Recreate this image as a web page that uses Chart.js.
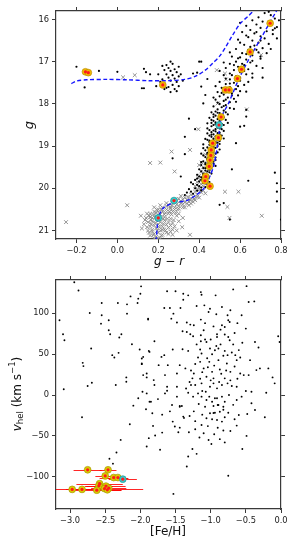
<!DOCTYPE html>
<html><head><meta charset="utf-8">
<script src="https://cdn.jsdelivr.net/npm/chart.js@4/dist/chart.umd.min.js"></script>
<style>
html,body{margin:0;padding:0;background:#fff;width:294px;height:546px;overflow:hidden}
canvas{position:absolute;left:0}
#c1{top:0}
#c2{top:270px}
</style></head><body>
<canvas id="c1" width="294" height="270"></canvas>
<canvas id="c2" width="294" height="276"></canvas>
<script>
// ---------- top panel: colour–magnitude diagram (g-r, g) ----------
const CMD_X_TICKS = [-0.2, 0.0, 0.2, 0.4, 0.6, 0.8];
const CMD_Y_TICKS = [16, 17, 18, 19, 20, 21];

// black dots (members / probable members)
const CMD_BLACK = [
 [0.22,17.10],[0.24,17.08],[0.25,17.15],[0.27,17.05],[0.23,17.2],[0.26,17.22],[0.28,17.18],[0.29,17.25],[0.24,17.3],[0.27,17.32],
 [0.25,17.38],[0.28,17.4],[0.3,17.35],[0.22,17.42],[0.26,17.45],[0.29,17.48],[0.23,17.52],[0.27,17.55],[0.25,17.6],[0.3,17.58],
 [0.28,17.65],[0.24,17.62],[0.31,17.3],[0.2,17.3],[0.21,17.48],[0.26,17.0],[0.3,17.12],[0.19,17.58],[0.32,17.45],[0.23,17.65],
 [0.29,17.7],[0.26,17.72],
 [-0.2,17.12],[-0.09,17.22],[0.0,17.24],[-0.16,17.61],[0.13,17.63],[0.13,17.17],[0.14,17.25],[0.37,17.28],[0.39,17.26],[0.40,17.0],
 [0.41,17.59],[0.44,17.41],[0.12,17.63],[0.16,17.3],
 [0.72,15.85],[0.75,15.9],[0.69,15.95],[0.77,15.98],[0.66,16.02],[0.71,16.05],[0.74,16.1],[0.68,16.12],[0.63,16.15],[0.78,16.18],
 [0.7,16.2],[0.65,16.25],[0.73,16.28],[0.61,16.3],[0.67,16.33],[0.76,16.35],[0.7,16.4],[0.64,16.42],[0.72,16.45],[0.59,16.48],
 [0.66,16.5],[0.69,16.55],[0.74,16.58],[0.62,16.6],[0.67,16.62],[0.71,16.68],[0.58,16.7],[0.64,16.72],[0.69,16.78],[0.61,16.8],
 [0.73,16.8],[0.66,16.85],[0.56,16.88],[0.6,16.9],[0.63,16.95],[0.7,16.93],[0.58,17.0],[0.65,17.02],[0.55,17.05],[0.62,17.08],
 [0.68,17.1],[0.59,17.12],[0.53,17.15],[0.64,17.18],[0.57,17.2],[0.6,17.25],[0.55,17.28],[0.63,17.3],[0.52,17.32],[0.58,17.35],
 [0.66,17.38],[0.55,17.42],[0.6,17.45],[0.5,17.48],[0.57,17.5],[0.53,17.53],[0.62,17.55],[0.55,17.6],[0.51,17.62],[0.58,17.65],
 [0.54,17.7],[0.49,17.72],[0.56,17.75],[0.52,17.78],[0.59,17.8],[0.5,17.82],[0.54,17.85],[0.57,17.88],[0.48,17.9],[0.52,17.93],
 [0.55,17.96],[0.5,18.0],[0.53,18.03],[0.47,18.06],[0.51,18.08],[0.55,18.1],[0.49,18.13],[0.52,18.16],[0.46,18.2],[0.5,18.22],
 [0.54,18.25],[0.48,18.28],[0.51,18.3],[0.45,18.33],[0.49,18.36],[0.53,18.38],[0.47,18.4],[0.5,18.43],[0.44,18.46],[0.48,18.48],
 [0.52,18.5],[0.46,18.53],[0.49,18.56],[0.51,18.6],[0.45,18.62],[0.48,18.65],[0.5,18.68],[0.44,18.7],[0.47,18.72],[0.51,18.75],
 [0.46,18.78],[0.49,18.8],[0.43,18.83],[0.47,18.86],[0.5,18.88],[0.45,18.9],[0.48,18.93],[0.42,18.96],[0.46,18.98],[0.49,19.0],
 [0.44,19.03],[0.47,19.06],[0.43,19.1],[0.46,19.12],[0.49,19.15],[0.41,19.18],[0.45,19.2],[0.47,19.23],[0.43,19.26],[0.46,19.3],
 [0.48,19.33],[0.42,19.36],[0.45,19.4],[0.47,19.42],[0.41,19.45],[0.44,19.48],[0.46,19.52],[0.4,19.55],[0.43,19.58],[0.45,19.62],
 [0.42,19.65],[0.39,19.68],[0.44,19.7],[0.41,19.74],[0.43,19.78],[0.38,19.8],[0.4,19.84],[0.42,19.88],[0.37,19.9],[0.4,19.95],
 [0.43,19.97],[0.38,20.0],[0.41,20.05],[0.36,20.08],
 [0.74,15.82],[0.79,16.02],[0.6,16.08],[0.76,16.25],[0.68,16.3],[0.63,16.38],[0.78,16.45],[0.7,16.5],[0.6,16.55],[0.65,16.65],
 [0.75,16.7],[0.68,16.72],[0.55,16.78],[0.63,16.82],[0.7,16.88],[0.59,16.92],[0.66,16.98],[0.52,17.02],[0.61,17.05],[0.57,17.08],
 [0.71,17.15],[0.62,17.22],[0.5,17.22],[0.66,17.28],[0.56,17.32],[0.6,17.38],[0.53,17.4],[0.64,17.48],[0.55,17.52],[0.59,17.58],
 [0.48,17.58],[0.53,17.66],[0.6,17.7],[0.51,17.74],[0.56,17.8],[0.47,17.85],[0.53,17.9],[0.58,17.95],[0.49,17.97],[0.52,18.05],
 [0.57,18.12],[0.48,18.18],[0.53,18.2],[0.47,18.25],[0.52,18.32],[0.46,18.38],[0.5,18.4],[0.54,18.45],[0.47,18.5],[0.5,18.53],
 [0.44,18.58],[0.48,18.6],[0.52,18.64],[0.46,18.67],[0.5,18.72],[0.45,18.75],[0.48,18.77],[0.52,18.82],[0.44,18.85],[0.48,18.9],
 [0.5,18.95],[0.45,18.97],[0.47,19.02],[0.42,19.05],[0.5,19.08],[0.45,19.1],[0.48,19.18],[0.44,19.16],[0.42,19.22],[0.48,19.27],
 [0.44,19.32],[0.41,19.38],[0.47,19.37],[0.43,19.43],[0.48,19.47],[0.42,19.52],[0.45,19.56],[0.41,19.6],[0.46,19.65],[0.4,19.72],
 [0.44,19.76],[0.39,19.77],[0.42,19.82],[0.45,19.85],[0.39,19.92],[0.41,19.98],[0.35,20.02],[0.39,20.06],[0.34,20.1],[0.37,20.13],
 [0.33,20.16],
 [0.49,18.21],[0.51,18.27],[0.47,18.31],[0.5,18.35],[0.48,18.44],[0.51,18.47],[0.46,18.45],[0.5,18.58],[0.47,18.63],[0.49,18.69],
 [0.46,18.73],[0.5,18.78],[0.47,18.82],[0.45,18.87],[0.49,18.92],[0.46,18.95],[0.48,19.04],[0.45,19.07],[0.47,19.14],[0.44,19.19],
 [0.46,19.25],[0.44,19.29],[0.46,19.35],[0.43,19.4],[0.45,19.46],[0.43,19.52],[0.44,19.6],[0.42,19.68],[0.43,19.72],[0.41,19.8],
 [0.33,18.78],[0.58,18.93],[0.64,19.82],[0.77,19.63],[0.78,19.88],[0.78,20.08],[0.78,20.31],[0.27,19.29],[0.33,19.19],[0.31,19.72],
 [0.5,20.39],[0.36,19.86],[0.6,18.54],[0.62,18.52],[0.8,20.74],[0.55,20.74],[0.41,17.0],[0.43,17.79],[0.42,17.99],[0.63,18.14],
 [0.63,18.3],[0.71,17.38],[0.77,16.21],[0.63,17.71],[0.35,18.35],[0.38,18.6],[0.56,19.55],[0.52,20.35]
];

// grey crosses (non-members)
const CMD_GREY = [
 [0.16,20.6],[0.18,20.55],[0.2,20.5],[0.22,20.55],[0.24,20.5],[0.17,20.7],[0.19,20.65],[0.21,20.62],[0.23,20.68],[0.25,20.6],
 [0.15,20.8],[0.17,20.78],[0.19,20.75],[0.21,20.8],[0.23,20.76],[0.26,20.72],[0.16,20.9],[0.18,20.88],[0.2,20.85],[0.22,20.9],
 [0.24,20.86],[0.27,20.82],[0.15,21.0],[0.17,20.98],[0.19,20.95],[0.21,21.0],[0.23,20.97],[0.25,20.93],[0.18,21.08],[0.2,21.05],
 [0.22,21.1],[0.24,21.05],[0.16,21.12],[0.19,21.15],[0.21,21.18],[0.26,21.02],[0.28,20.9],[0.14,20.7],[0.29,20.65],[0.27,20.55],
 [0.18,20.45],[0.13,20.85],[0.3,20.78],[0.2,20.72],[0.22,20.98],[0.17,21.02],[0.25,20.8],[0.16,20.68],[0.23,20.62],[0.19,20.58],
 [0.25,20.4],[0.27,20.35],[0.29,20.38],[0.31,20.3],[0.33,20.33],[0.26,20.48],[0.28,20.45],[0.3,20.42],[0.32,20.38],[0.34,20.27],
 [0.36,20.24],[0.35,20.32],[0.37,20.2],[0.38,20.28],[0.39,20.15],[0.4,20.22],[0.41,20.1],[0.36,20.15],[0.33,20.22],[0.38,20.08],
 [0.42,20.05],[0.4,20.0],[0.43,20.12],[0.37,20.32],[0.3,20.25],[0.24,20.35],[0.22,20.45],[0.35,20.4],[0.28,20.28],[0.31,20.18],
 [0.41,19.9],[0.43,19.85],[0.39,19.85],[0.42,19.75],[0.4,19.7],[0.44,19.8],[0.38,19.95],[0.41,19.6],[0.43,19.65],[0.45,19.55],
 [0.42,19.5],[0.44,19.4],[0.4,19.45],[0.46,19.3],[0.43,19.2],[0.45,19.1],
 [0.155,20.65],[0.175,20.62],[0.195,20.52],[0.215,20.5],[0.235,20.58],[0.255,20.55],[0.265,20.62],[0.285,20.58],[0.295,20.5],[0.145,20.92],
 [0.165,20.85],[0.185,20.82],[0.205,20.92],[0.225,20.84],[0.245,20.72],[0.26,20.88],[0.275,20.75],[0.155,21.05],[0.175,21.1],[0.195,21.0],
 [0.215,21.12],[0.235,21.0],[0.25,21.08],[0.27,20.98],[0.185,20.68],[0.205,20.6],[0.225,20.72],[0.145,20.6],[0.135,20.75],[0.165,20.75],
 [0.2,21.18],[0.18,21.18],[0.26,20.45],[0.28,20.5],[0.3,20.48],[0.32,20.45],[0.34,20.36],[0.355,20.28],[0.375,20.25],[0.31,20.35],
 [0.29,20.3],[0.265,20.4],[0.32,20.26],[0.345,20.2],[0.39,20.2],[0.405,20.05],[0.39,20.02],[0.42,19.95],[0.405,19.8],[0.425,19.7],
 [0.395,19.75],[0.33,20.45],[0.24,20.42],[0.21,20.4],[0.36,20.36],[0.3,20.6],[0.32,20.7],[0.12,20.95],[0.27,21.1],[0.29,21.0],
 [0.16,19.4],[0.21,19.39],[0.265,19.13],[0.28,19.6],[0.355,19.09],[0.396,18.6],[0.526,20.08],[0.592,20.08],[0.538,20.44],[0.548,20.7],
 [0.706,20.65],[0.115,20.65],[0.355,21.1],[0.317,20.92],[0.412,19.39],[0.048,20.4],[-0.251,20.8],[0.486,17.2],[0.531,17.42],[0.49,17.99],
 [0.633,18.13],[0.703,16.84],[0.526,17.28],[0.028,17.37],[0.085,17.32]
];

// spectroscopic targets (red centre, yellow / cyan halo)
const CMD_TARGETS = [
 [-0.156,17.24],[-0.142,17.26],[0.222,17.55],[0.747,16.09],[0.649,16.77],[0.607,17.18],[0.587,17.40],[0.528,17.67],[0.546,17.67],
 [0.507,18.31],[0.497,18.50],[0.494,18.80],[0.466,18.93],[0.459,19.09],[0.457,19.22],[0.453,19.33],[0.449,19.48],[0.432,19.72],
 [0.428,19.82],[0.453,19.95],[0.277,20.29],[0.200,20.70]
];
const CMD_TARGET_CYAN = [10, 20, 21];

// two dashed fiducial sequences
const ISO_A = [[-0.225,17.52],[-0.2,17.46],[-0.15,17.43],[-0.05,17.42],[0.05,17.43],[0.15,17.45],[0.25,17.45],[0.33,17.42],
 [0.38,17.35],[0.43,17.2],[0.47,17.02],[0.5,16.87],[0.53,16.65],[0.56,16.4],[0.6,16.1],[0.64,15.92],[0.665,15.8]];
const ISO_B = [[0.19,21.25],[0.195,20.9],[0.2,20.7],[0.224,20.47],[0.276,20.34],[0.339,20.29],[0.388,20.15],[0.42,20.02],
 [0.445,19.8],[0.47,19.48],[0.486,19.09],[0.499,18.62],[0.51,18.3],[0.543,17.99],[0.592,17.43],[0.641,16.96],[0.706,16.41],[0.78,15.78]];

// ---------- bottom panel: v_hel vs [Fe/H] ----------
const VF_X_TICKS = [-3.0, -2.5, -2.0, -1.5, -1.0, -0.5, 0.0];
const VF_Y_TICKS = [-100, -50, 0, 50, 100];

const VF_FIELD = [
 [-2.94,138],[-2.88,128],[-3.15,91.5],[-3.10,74.4],[-3.08,67],[-3.09,7],[-2.72,100.4],[-2.70,57],[-2.82,39.4],[-2.81,35.4],
 [-2.75,11],[-2.69,15],[-2.55,112.6],[-2.55,97.6],[-2.56,87.4],[-2.45,91.5],[-2.45,79.3],[-2.43,74.4],[-2.40,48.8],[-2.37,46],
 [-2.31,51.6],[-2.32,112.6],[-2.19,111],[-2.19,99.6],[-2.30,70.4],[-2.27,74.4],[-2.35,12.2],[-2.20,21.6],[-2.20,16.2],[-2.14,120.7],
 [-2.04,112.6],[-2.03,118],[-2.00,124],[-1.99,133],[-2.12,62.2],[-2.01,55.7],[-1.98,44.8],[-1.98,37.8],[-1.96,24.4],[-1.91,21.6],
 [-1.97,4],[-2.03,-4],[-1.91,2],[-2.10,-13],[-1.92,-17.4],[-1.89,93.5],[-1.88,54],
 [-2.83,-27.2],[-2.15,-35.7],[-2.28,-54.9],[-2.34,-70.4],[-2.44,-78],[-2.39,-84],[-1.88,-52.8],[-1.91,-63],
 [-1.53,-121],[-0.75,-98.8],[-1.34,-87.4],[-1.32,-75.2],[-1.20,-72],[-1.26,-66],[-1.72,-67],[-1.79,-49.6],[-1.69,-46],[-0.55,-66],
 [-0.49,-50],[-1.03,-55],[-0.87,-54],[-0.95,-48],[-1.10,-46.8],[-1.31,-45.5],[-1.46,-45.5],[-1.44,-39.9],[-1.51,-38.6],[-1.22,-41.8],
 [-0.82,-43.5],[-0.63,-37.4],[-0.23,-27.2],[-0.37,-18.3],[-0.48,-23.2],[-0.60,-24.4],[-0.66,-29.6],[-1.83,-22.3],[-1.82,-37.8],[-1.69,-24],
 [-1.54,-32.5],[-1.39,-26.4],[-1.30,-25.6],[-1.13,-36.6],[-1.06,-28.4],[-0.98,-29.6],[-0.91,-30.5],[-0.84,-32.5],[-0.80,-27.2],[-1.01,-22.3],
 [-0.94,-21.6],[-0.87,-20.4],[-1.08,-14.3],[-0.96,-13.4],[-0.89,-12.2],[-0.82,-14.3],[-1.17,-11],[-1.44,-13.4],[-1.55,-12.2],[-1.87,-8.2],
 [-0.75,-21.6],
 [-1.62,127],[-1.50,127],[-1.39,124],[-1.32,122],[-1.39,116.7],[-1.14,126],[-1.13,122.8],[-0.93,122],[-0.68,129.3],[-0.49,133.3],
 [-0.46,113.8],[-0.38,114.6],[-0.84,107.7],[-1.01,105.7],[-1.09,109.8],[-1.20,108.9],[-1.66,106.5],[-1.58,106.5],[-1.43,106.5],[-1.53,99.6],
 [-1.56,93.5],[-1.89,92.3],[-1.48,88.7],[-1.34,88.7],[-1.29,86.2],[-1.24,85.4],[-1.14,92.3],[-1.03,101.6],[-0.92,98.8],[-0.76,97.6],
 [-0.72,103.7],[-0.73,89.4],[-0.75,91.5],[-0.56,97.6],[-0.50,81.3],[-1.40,78],[-1.34,77.2],[-1.29,74.4],[-1.14,73.2],[-1.10,79.3],
 [-1.08,67.9],[-1.14,65.9],[-1.06,65],[-0.91,71.1],[-0.91,74.4],[-0.80,74],[-0.75,71.1],[-0.73,67.1],[-0.37,65],[-0.32,58.2],
 [-0.04,72],[-0.02,65],[-1.80,65.9],[-1.87,52.8],[-1.54,55.7],[-1.32,54],[-1.15,55.7],[-1.13,50.8],[-1.01,57],[-0.94,54.9],
 [-0.89,57],[-0.80,54],[-0.76,48.8],[-0.65,48.8],[-0.58,46],[-0.44,42.7],[-0.30,32.6],[-0.18,32.6],[-0.35,30.5],[-0.12,21.6],
 [-0.09,14.3],[-0.21,2.8],[-0.42,4],[-1.96,46.7],[-1.98,38.6],[-1.91,26.4],[-1.81,18.3],[-1.80,12.2],[-1.70,46.7],[-1.66,48.8],
 [-1.74,36.6],[-1.61,36.6],[-1.44,36.6],[-1.36,32.6],[-1.24,26.4],[-1.65,24.4],[-1.48,26.4],[-1.62,10.1],[-1.62,5.2],[-1.48,10.1],
 [-1.41,-13.4],[-1.28,12.2],[-1.22,12.2],[-1.13,14.3],[-1.12,4.9],[-1.07,4],[-1.01,10.1],[-0.96,14.3],[-0.91,8.2],[-0.84,12.2],
 [-0.76,14.3],[-0.70,11],[-0.63,10.1],[-0.58,26.4],[-0.72,28.4],[-0.87,31.3],[-0.98,28.4],[-1.10,32.6],[-1.15,40.6],[-1.02,40.6],
 [-0.89,42.7],[-0.77,38.6],[-0.63,42.7],[-1.26,20.4],[-1.06,22.3],[-0.96,20.4],[-0.80,20.4],[-0.91,-4],[-1.13,-2],[-1.06,-6],
 [-0.98,-8.2],[-0.84,-2],[-0.80,-8.2],[-0.63,-6],[-0.90,-12.2],[-1.25,-2],[-1.32,2.8],[-1.44,-14.3],[-1.85,-8.2],[-0.42,-10.1],
 [-0.53,24.4],[-0.46,24.4],[-0.84,85.4],[-0.80,83.3],
 [-1.05,45],[-0.98,50],[-0.92,60],[-0.86,62],[-0.82,48],[-0.7,52],[-0.68,62],[-1.18,46],[-1.22,38],[-1.28,30],
 [-1.12,28],[-1.04,34],[-0.95,36],[-0.85,26],[-0.78,30],[-0.66,35],[-0.62,20],[-0.72,18],[-0.88,16],[-1.0,18],
 [-1.15,20],[-1.3,16],[-1.35,8],[-1.18,2],[-1.02,-2],[-0.94,-4],[-0.74,0],[-0.68,-12],[-0.82,-18],[-0.96,-22],
 [-1.12,-24],[-1.24,-20],[-1.38,-28],[-1.22,-32],[-1.04,-38],[-0.9,-40],[-0.72,-44],[-1.16,-52],[-0.99,-60],[-0.8,-58],
 [-1.4,56],[-1.2,62],[-1.0,68],[-0.86,80],[-0.66,76],[-0.55,64],[-0.6,55],[-1.25,72],[-1.08,88],[-0.96,84],
 [-0.62,88],[-0.5,5],[-0.56,-2],[-1.48,-2],[-1.58,-20],[-1.65,2],[-1.75,-5]
];

// spectroscopic targets with [Fe/H] uncertainties
const VF_TARGET_FEH = [-2.75,-2.46,-2.50,-2.38,-2.32,-2.25,-2.58,-2.59,-2.49,-2.97,-2.83,-2.62,-2.51,-2.45,-2.47];
const VF_TARGET_V   = [-91.5,-91.5,-99,-101,-101,-103,-108.5,-111,-111.5,-115.5,-115.5,-116.5,-114.5,-114,-116];
const VF_TARGET_ERR = [0.2,0.12,0.14,0.2,0.15,0.2,0.33,0.2,0.28,0.25,0.15,0.35,0.55,0.25,0.2];
const VF_TARGET_CYAN = [5];

// ---------- drawing ----------
const FONT = 'DejaVu Sans';
const AX = '#3a3a3a';
const fmtNum = d => v => (v < 0 ? '\u2212' : '') + Math.abs(v).toFixed(d);

function axis(dir, pos, min, max, tv, size, fmt, show, rev) {
  return {
    type: 'linear', axis: dir, position: pos, min, max, reverse: !!rev,
    afterBuildTicks: s => { s.ticks = tv.map(v => ({ value: v })); },
    afterFit: s => { if (dir === 'x') s.height = size; else s.width = size; },
    grid: { display: true, drawOnChartArea: false, drawTicks: true, tickLength: 4, color: AX, tickWidth: 1 },
    border: { display: true, color: AX, width: 1.2 },
    ticks: { display: true, autoSkip: false, maxRotation: 0, padding: 3, color: '#222',
      font: { family: FONT, size: 8.3 }, callback: v => show ? fmt(v) : '' }
  };
}
const pts = a => a.map(p => ({ x: p[0], y: p[1] }));

function textPlugin(items) {
  return { id: 'txt', afterDraw(chart) {
    const ctx = chart.ctx;
    ctx.save(); ctx.fillStyle = '#111';
    for (const it of items) {
      ctx.save(); ctx.translate(it.x, it.y); if (it.rot) ctx.rotate(-Math.PI / 2);
      ctx.textBaseline = 'middle';
      let total = 0;
      for (const s of it.segs) { ctx.font = s.f; total += ctx.measureText(s.t).width; }
      let x = -total / 2;
      ctx.textAlign = 'left';
      for (const s of it.segs) { ctx.font = s.f; ctx.fillText(s.t, x, s.dy || 0); x += ctx.measureText(s.t).width; }
      ctx.restore();
    }
    ctx.restore();
  }};
}

const haloColors = (n, cyanIdx, c) => Array.from({ length: n }, (_, i) => cyanIdx.includes(i) ? '#3cc8c8' : c);
const haloBorders = (n, cyanIdx, c) => Array.from({ length: n }, (_, i) => cyanIdx.includes(i) ? '#1a9a9a' : c);

// top chart
new Chart(document.getElementById('c1'), {
  type: 'scatter',
  data: { datasets: [
    { data: pts(CMD_TARGETS), pointRadius: 1.6, pointBackgroundColor: '#ff1a1a', pointBorderWidth: 0, order: 0 },
    { data: pts(CMD_TARGETS), pointRadius: 3.4, pointBackgroundColor: haloColors(CMD_TARGETS.length, CMD_TARGET_CYAN, '#f0b800'),
      pointBorderColor: haloBorders(CMD_TARGETS.length, CMD_TARGET_CYAN, '#c09000'), pointBorderWidth: 0.7, order: 1 },
    { type: 'line', data: pts(ISO_A), showLine: true, pointRadius: 0, borderColor: '#1515ff', borderWidth: 1.4,
      borderDash: [4, 2.5], tension: 0.3, fill: false, order: 2 },
    { type: 'line', data: pts(ISO_B), showLine: true, pointRadius: 0, borderColor: '#1515ff', borderWidth: 1.4,
      borderDash: [4, 2.5], tension: 0.3, fill: false, order: 2 },
    { data: pts(CMD_BLACK), pointRadius: 1.1, pointBackgroundColor: '#000', pointBorderWidth: 0, order: 3 },
    { data: pts(CMD_GREY), pointStyle: 'crossRot', pointRadius: 2.7, pointBorderColor: '#8a8a8a', pointBorderWidth: 0.9, order: 4 }
  ]},
  options: {
    responsive: false, animation: false, devicePixelRatio: 1,
    layout: { padding: 0 },
    plugins: { legend: { display: false }, tooltip: { enabled: false } },
    scales: {
      x: axis('x', 'bottom', -0.3, 0.8, CMD_X_TICKS, 31, fmtNum(1), true),
      x2: axis('x', 'top', -0.3, 0.8, CMD_X_TICKS, 11, fmtNum(1), false),
      y: axis('y', 'left', 15.8, 21.2, CMD_Y_TICKS, 56, fmtNum(0), true, true),
      y2: axis('y', 'right', 15.8, 21.2, CMD_Y_TICKS, 13, fmtNum(0), false, true)
    }
  },
  plugins: [textPlugin([
    { x: 30, y: 125, rot: true, segs: [{ t: 'g', f: `italic 13px "${FONT}"` }] },
    { x: 169, y: 262, segs: [{ t: 'g', f: `italic 12px "${FONT}"` }, { t: ' \u2212 ', f: `12px "${FONT}"` }, { t: 'r', f: `italic 12px "${FONT}"` }] }
  ])]
});

// bottom chart
const errPlugin = { id: 'err', beforeDatasetsDraw(chart) {
  const ctx = chart.ctx, xs = chart.scales.x, ys = chart.scales.y, a = chart.chartArea;
  ctx.save(); ctx.beginPath(); ctx.rect(a.left, a.top, a.right - a.left, a.bottom - a.top); ctx.clip();
  ctx.strokeStyle = 'rgba(255,0,0,0.85)'; ctx.lineWidth = 1;
  VF_TARGET_FEH.forEach((f, i) => {
    const y = Math.round(ys.getPixelForValue(VF_TARGET_V[i])) + 0.5;
    const x0 = xs.getPixelForValue(f - VF_TARGET_ERR[i]), x1 = xs.getPixelForValue(f + VF_TARGET_ERR[i]);
    ctx.beginPath(); ctx.moveTo(x0, y); ctx.lineTo(x1, y); ctx.stroke();
  });
  ctx.restore();
}};
const VF_T = VF_TARGET_FEH.map((f, i) => [f, VF_TARGET_V[i]]);
new Chart(document.getElementById('c2'), {
  type: 'scatter',
  data: { datasets: [
    { data: pts(VF_T), pointRadius: 1.6, pointBackgroundColor: '#ff1a1a', pointBorderWidth: 0, order: 0 },
    { data: pts(VF_T), pointRadius: 3.4, pointBackgroundColor: haloColors(VF_T.length, VF_TARGET_CYAN, '#dccc00'),
      pointBorderColor: haloBorders(VF_T.length, VF_TARGET_CYAN, '#a89a00'), pointBorderWidth: 0.7, order: 1 },
    { data: pts(VF_FIELD), pointRadius: 0.95, pointBackgroundColor: '#000', pointBorderWidth: 0, order: 3 }
  ]},
  options: {
    responsive: false, animation: false, devicePixelRatio: 1,
    layout: { padding: 0 },
    plugins: { legend: { display: false }, tooltip: { enabled: false } },
    scales: {
      x: axis('x', 'bottom', -3.2, 0.0, VF_X_TICKS, 37, fmtNum(1), true),
      x2: axis('x', 'top', -3.2, 0.0, VF_X_TICKS, 10, fmtNum(1), false),
      y: axis('y', 'left', -139.5, 140.8, VF_Y_TICKS, 56, fmtNum(0), true),
      y2: axis('y', 'right', -139.5, 140.8, VF_Y_TICKS, 13, fmtNum(0), false)
    }
  },
  plugins: [errPlugin, textPlugin([
    { x: 18, y: 124, rot: true, segs: [
      { t: 'v', f: `italic 12px "${FONT}"` }, { t: 'hel', f: `8.5px "${FONT}"`, dy: 3 },
      { t: ' (km s', f: `12px "${FONT}"` }, { t: '\u22121', f: `8.5px "${FONT}"`, dy: -5 }, { t: ')', f: `12px "${FONT}"` }] },
    { x: 168, y: 262, segs: [{ t: '[Fe/H]', f: `12px "${FONT}"` }] }
  ])]
});
</script>
</body></html>
